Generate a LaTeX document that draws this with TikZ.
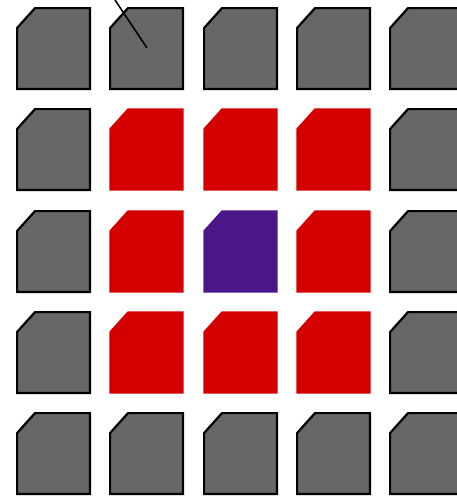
\documentclass[tikz,border=0pt]{standalone}
\definecolor{cellgray}{HTML}{676767}
\definecolor{cellred}{HTML}{D40000}
\definecolor{cellpurple}{HTML}{4A1688}
\tikzset{
  graycell/.style={fill=cellgray,draw=black,line width=2.2pt,line join=miter},
  redcell/.style={fill=cellred,draw=cellred,line width=1.5pt},
  purplecell/.style={fill=cellpurple,draw=cellpurple,line width=1.5pt},
  pointer/.style={draw=black,line width=1.6pt}
}
\newcommand{\cellpath}[3]{% style, left, top
  \path[#1] (#2+1.1,#3+21) -- (#2+19,#3+1.1) -- (#2+73.9,#3+1.1) -- (#2+73.9,#3+81.9) -- (#2+1.1,#3+81.9) -- cycle;
}
\begin{document}
\begin{tikzpicture}[x=1pt,y=-1pt]
\useasboundingbox (0,0) rectangle (456,496);
\fill[white] (0,0) rectangle (456,496);
\foreach \c/\x in {1/16,2/109,3/203,4/296,5/389}{
  \foreach \r/\y in {1/7,2/108,3/210,4/311,5/412}{
    \pgfmathtruncatemacro{\inner}{(\c>1)&&(\c<5)&&(\r>1)&&(\r<5) ? 1 : 0}
    \pgfmathtruncatemacro{\center}{(\c==3)&&(\r==3) ? 1 : 0}
    \ifnum\center=1
      \cellpath{purplecell}{\x}{\y}
    \else\ifnum\inner=1
      \cellpath{redcell}{\x}{\y}
    \else
      \cellpath{graycell}{\x}{\y}
    \fi\fi
  }
}
\coordinate (ptrstart) at (115,0);
\coordinate (ptrend) at (147,48);
\draw[pointer] (ptrstart) -- (ptrend);
\end{tikzpicture}
\end{document}
